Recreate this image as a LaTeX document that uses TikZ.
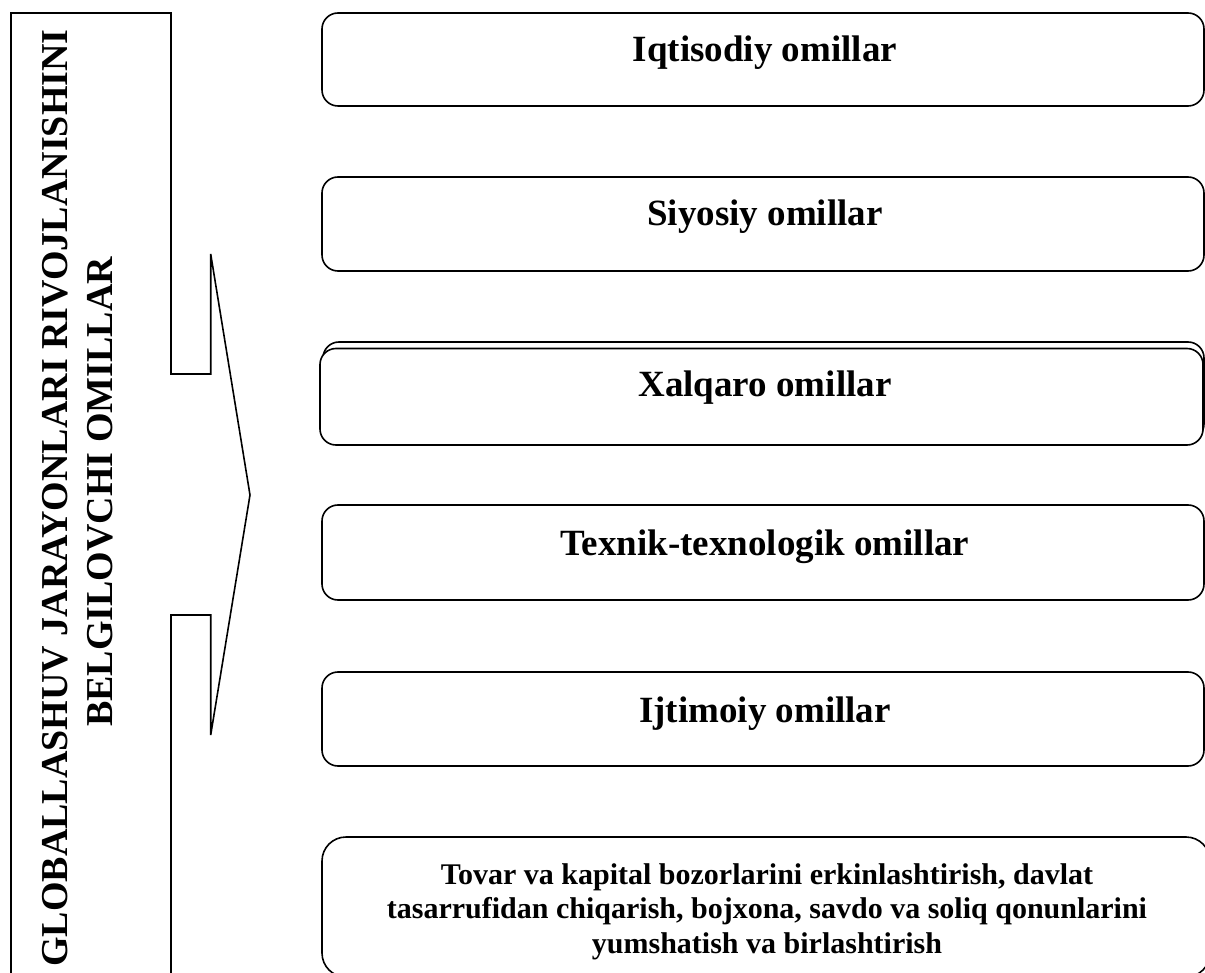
\documentclass[tikz,border=0pt]{standalone}
\usepackage{fontspec}
\setmainfont{Liberation Serif}
\begin{document}
\begin{tikzpicture}[x=1pt,y=-1pt,line width=1.6pt,line join=miter,
  box/.style={draw,fill=white,rounded corners=16pt,inner sep=0pt,minimum width=882pt,minimum height=93pt},
  lbl/.style={font=\bfseries\fontsize{37}{42}\selectfont,inner sep=0pt,anchor=base},
  ttl/.style={font=\bfseries\fontsize{38}{44}\selectfont,inner sep=0pt,anchor=base,rotate=90}]
\useasboundingbox (0,0) rectangle (1205,973);
\clip (0,0) rectangle (1205,973);
% left bracket with chevron
\coordinate (tl) at (11,13);
\coordinate (bl) at (11,990);
\draw (bl) -- (tl) -- (171,13) -- (171,374) -- (210.7,374) -- (210.7,254)
      -- (250,495) -- (210.7,735) -- (210.7,615) -- (171,615) -- (171,990);
\node[ttl] (g1) at (67,498) {GLOBALLASHUV JARAYONLARI RIVOJLANISHINI};
\node[ttl] (g2) at (112,492) {BELGILOVCHI OMILLAR};
% boxes
\node[box] (b1) at (763,59.5) {};
\node[lbl] (t1) at (765,62) {Iqtisodiy omillar};
\node[box,minimum height=94pt] (b2) at (763,224) {};
\node[lbl] (t2) at (765,226) {Siyosiy omillar};
\node[box,minimum width=881pt,minimum height=98pt] (b3b) at (763.5,391) {};
\node[box,minimum width=883pt,minimum height=96.5pt] (b3) at (761.5,396.75) {};
\node[lbl] (t3) at (765,397) {Xalqaro omillar};
\node[box,minimum height=95pt] (b4) at (763,552.5) {};
\node[lbl] (t4) at (765,555) {Texnik-texnologik omillar};
\node[box,minimum height=94pt] (b5) at (763,719) {};
\node[lbl] (t5) at (765,722) {Ijtimoiy omillar};
\node[box,rounded corners=24pt,minimum width=888pt,minimum height=140pt] (b6) at (766,907) {};
\node[font=\bfseries\fontsize{30}{34.5}\selectfont,inner sep=0pt,align=center,anchor=north] (t6) at (767,862.5)
  {Tovar va kapital bozorlarini erkinlashtirish, davlat\\
   tasarrufidan chiqarish, bojxona, savdo va soliq qonunlarini\\
   yumshatish va birlashtirish};
\end{tikzpicture}
\end{document}
